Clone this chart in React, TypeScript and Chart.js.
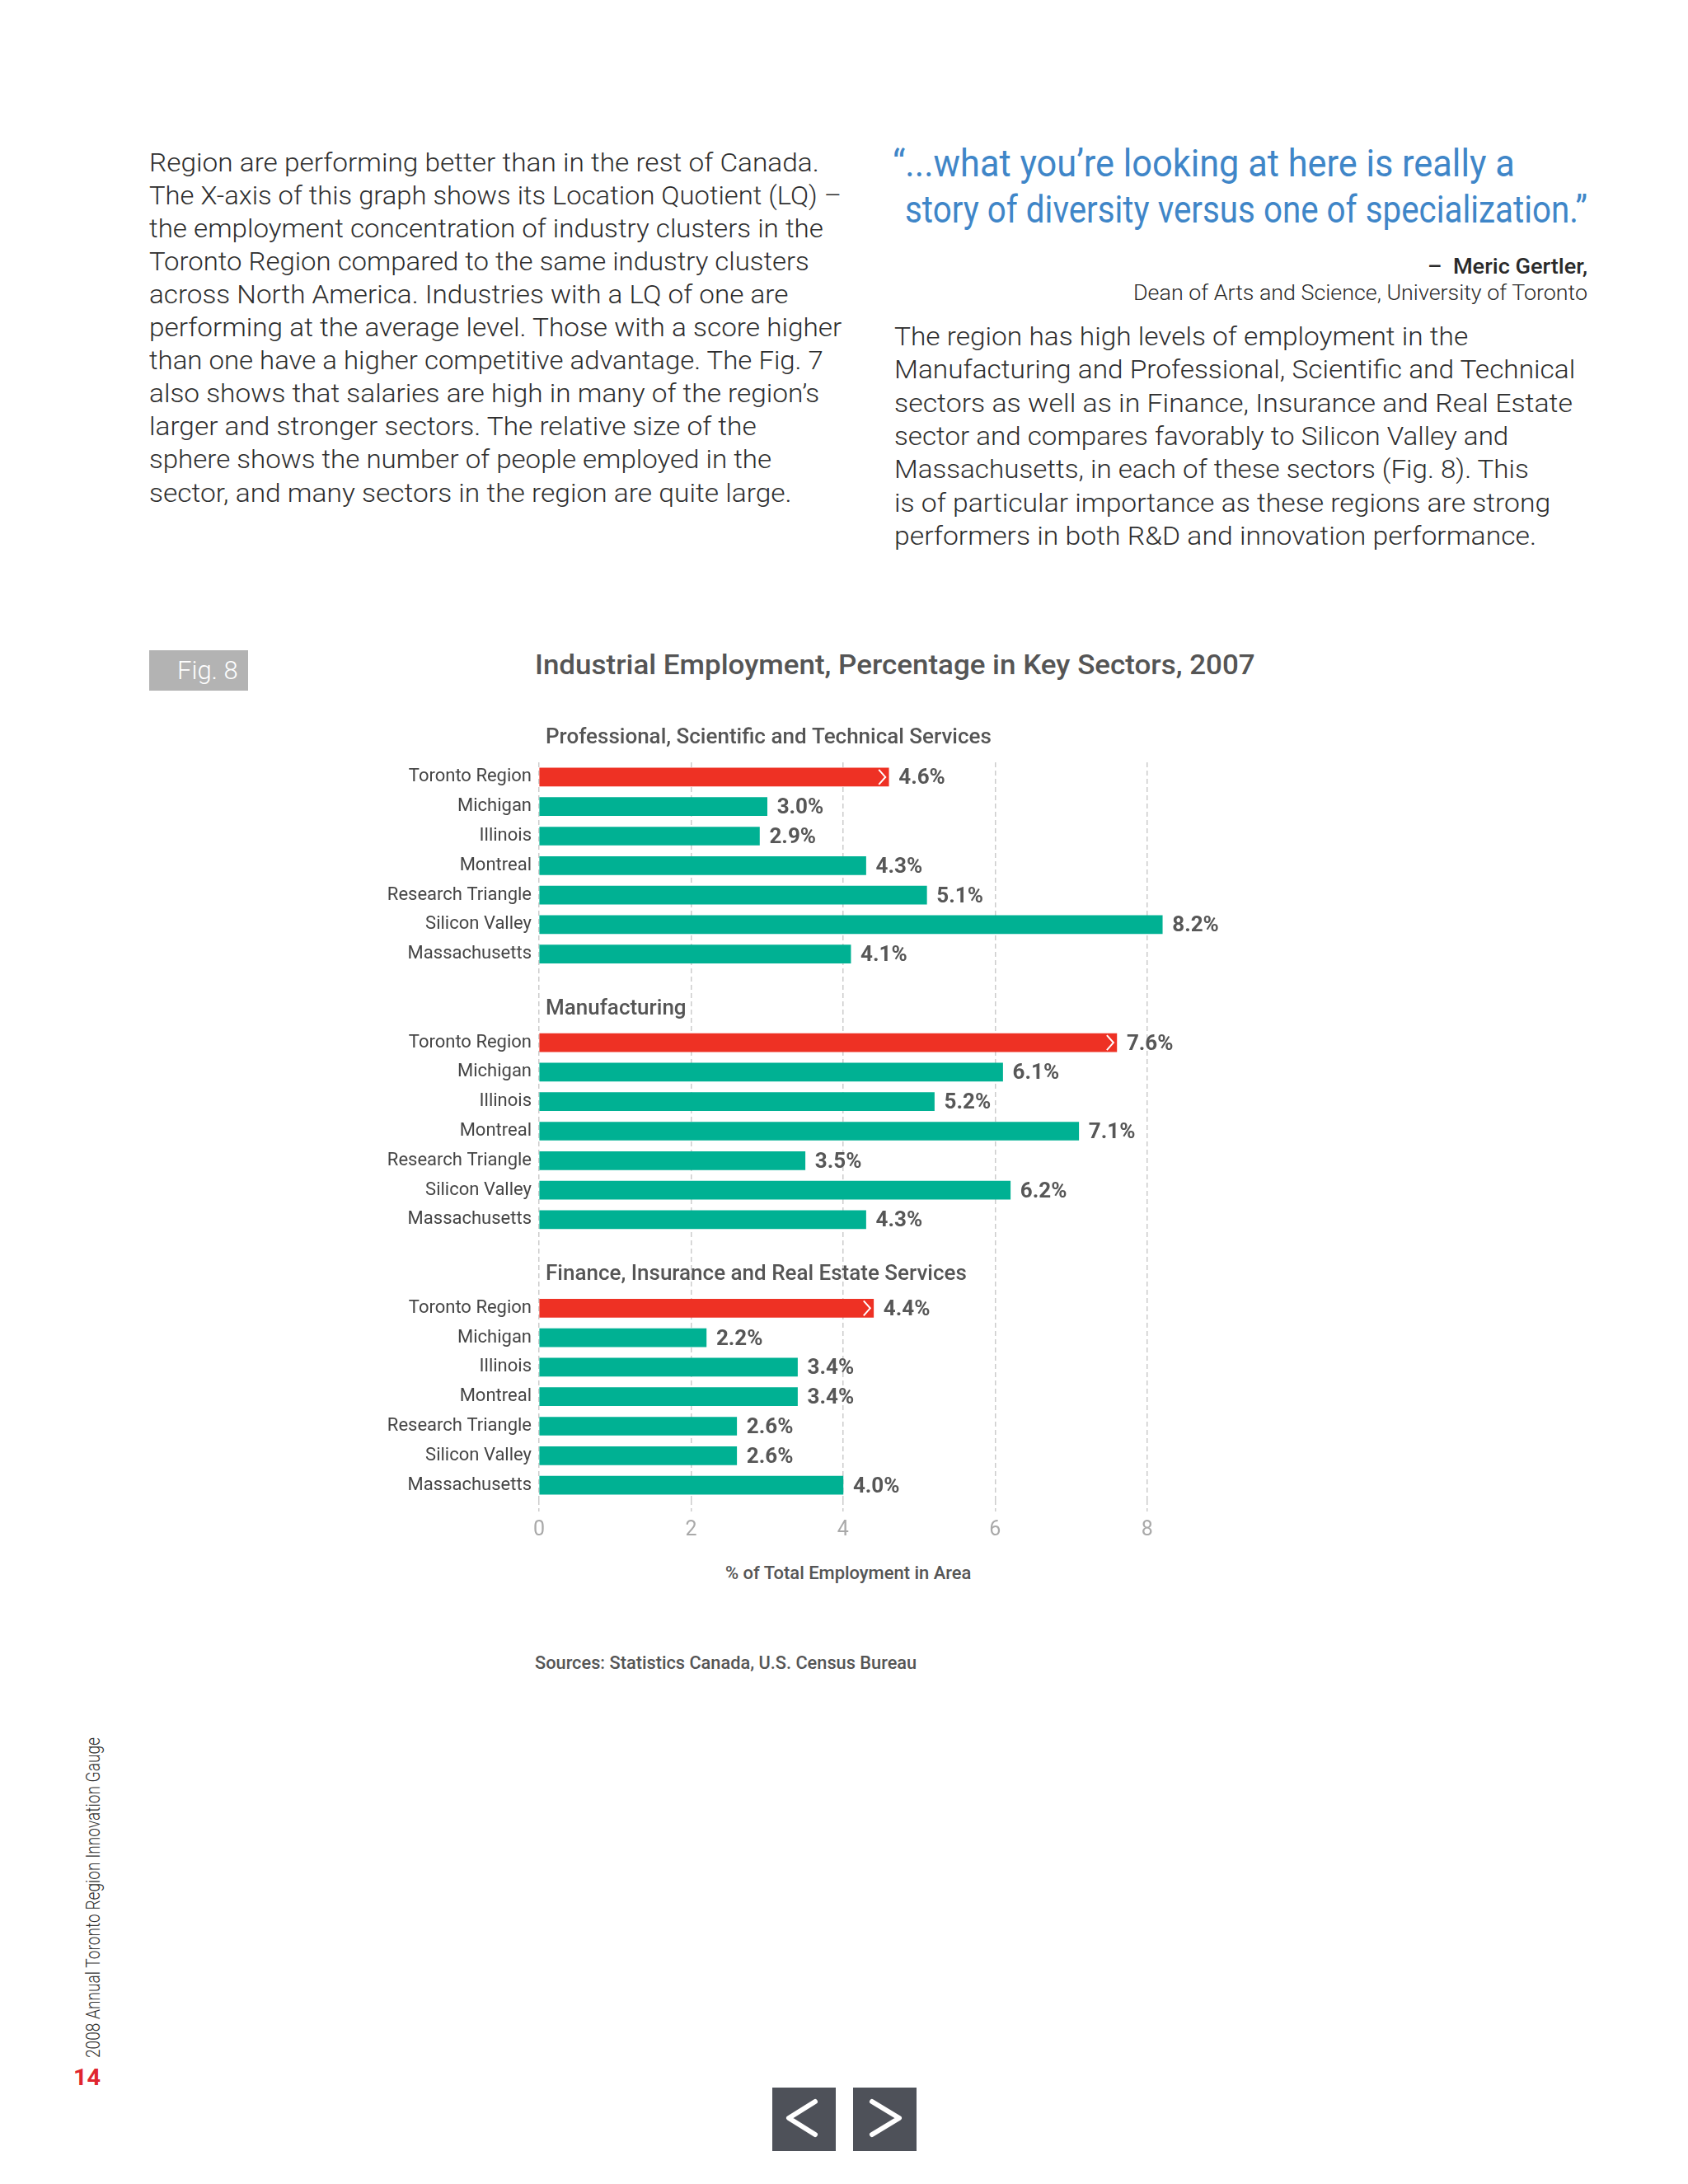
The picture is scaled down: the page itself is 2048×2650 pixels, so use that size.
import React, { useEffect, useLayoutEffect, useRef, useState } from 'react';
import { Chart, registerables } from 'chart.js';

Chart.register(...registerables);

// ---------- data ----------
const regions = [
  'Toronto Region',
  'Michigan',
  'Illinois',
  'Montreal',
  'Research Triangle',
  'Silicon Valley',
  'Massachusetts',
];
const sectorTitles = [
  'Professional, Scientific and Technical Services',
  'Manufacturing',
  'Finance, Insurance and Real Estate Services',
];
const professionalShares = [4.6, 3.0, 2.9, 4.3, 5.1, 8.2, 4.1];
const manufacturingShares = [7.6, 6.1, 5.2, 7.1, 3.5, 6.2, 4.3];
const financeShares = [4.4, 2.2, 3.4, 3.4, 2.6, 2.6, 4.0];
const xTickValues = [0, 2, 4, 6, 8];
const highlightRegion = 'Toronto Region';
const chartTitle = 'Industrial Employment, Percentage in Key Sectors, 2007';
const xAxisTitle = '% of Total Employment in Area';
const sourceNote = 'Sources: Statistics Canada, U.S. Census Bureau';
const figLabel = 'Fig. 8';

const leftParagraph = [
  'Region are performing better than in the rest of Canada.',
  'The X-axis of this graph shows its Location Quotient (LQ) –',
  'the employment concentration of industry clusters in the',
  'Toronto Region compared to the same industry clusters',
  'across North America. Industries with a LQ of one are',
  'performing at the average level. Those with a score higher',
  'than one have a higher competitive advantage. The Fig. 7',
  'also shows that salaries are high in many of the region’s',
  'larger and stronger sectors. The relative size of the',
  'sphere shows the number of people employed in the',
  'sector, and many sectors in the region are quite large.',
];
const quoteLines = [
  '“...what you’re looking at here is really a',
  'story of diversity versus one of specialization.”',
];
const quoteAuthor = '–  Meric Gertler,';
const quoteRole = 'Dean of Arts and Science, University of Toronto';
const rightParagraph = [
  'The region has high levels of employment in the',
  'Manufacturing and Professional, Scientific and Technical',
  'sectors as well as in Finance, Insurance and Real Estate',
  'sector and compares favorably to Silicon Valley and',
  'Massachusetts, in each of these sectors (Fig. 8). This',
  'is of particular importance as these regions are strong',
  'performers in both R&D and innovation performance.',
];
const footerText = '2008 Annual Toronto Region Innovation Gauge';
const pageNumber = '14';

// ---------- derived rows ----------
const sectorSeries = [professionalShares, manufacturingShares, financeShares];
const rowLabels: string[] = [];
const rowValues: (number | null)[] = [];
const sectorFirstRow: number[] = [];
sectorSeries.forEach((vals, s) => {
  if (s > 0) {
    rowLabels.push('', '');
    rowValues.push(null, null);
  }
  sectorFirstRow.push(rowLabels.length);
  regions.forEach((r, i) => {
    rowLabels.push(r);
    rowValues.push(vals[i]);
  });
});

const TEAL = '#00b193';
const RED = '#ee3124';
const FONT = 'Roboto, "Noto Sans", sans-serif';

// ---------- text helper ----------
type FitProps = {
  x: number;
  y: number;
  w: number;
  size: number;
  text: string;
  color?: string;
  weight?: number;
};
function FitText({ x, y, w, size, text, color = '#3b3b3b', weight = 400 }: FitProps) {
  const ref = useRef<HTMLSpanElement>(null);
  const [sx, setSx] = useState(1);
  useLayoutEffect(() => {
    const measure = () => {
      const el = ref.current;
      if (el && el.offsetWidth > 0) setSx(w / el.offsetWidth);
    };
    measure();
    const fonts = (document as any).fonts;
    if (fonts && fonts.ready) fonts.ready.then(measure);
  }, [text, w, size]);
  return (
    <span
      ref={ref}
      style={{
        position: 'absolute',
        left: x,
        top: y - size / 2,
        fontSize: size,
        lineHeight: `${size}px`,
        fontFamily: FONT,
        fontWeight: weight,
        color,
        whiteSpace: 'pre',
        transform: `scaleX(${sx})`,
        transformOrigin: '0 50%',
      }}
    >
      {text}
    </span>
  );
}

// ---------- chart ----------
const barExtrasPlugin = {
  id: 'barExtras',
  afterDatasetsDraw(chart: any) {
    const ctx = chart.ctx;
    const meta = chart.getDatasetMeta(0);
    ctx.save();
    meta.data.forEach((bar: any, i: number) => {
      const v = rowValues[i];
      if (v == null) return;
      const x = bar.x;
      const y = bar.y;
      ctx.font = `bold 26px ${FONT}`;
      ctx.fillStyle = '#575757';
      ctx.textAlign = 'left';
      ctx.textBaseline = 'middle';
      ctx.fillText(`${v.toFixed(1)}%`, x + 12, y + 2);
      if (rowLabels[i] === highlightRegion) {
        ctx.strokeStyle = '#ffffff';
        ctx.lineWidth = 2;
        ctx.lineJoin = 'miter';
        ctx.beginPath();
        ctx.moveTo(x - 12, y - 9);
        ctx.lineTo(x - 4, y);
        ctx.lineTo(x - 12, y + 9);
        ctx.stroke();
      }
    });
    const yScale = chart.scales.y;
    ctx.font = `500 26px ${FONT}`;
    ctx.fillStyle = '#555555';
    ctx.textAlign = 'left';
    ctx.textBaseline = 'middle';
    sectorTitles.forEach((t, s) => {
      const yy = yScale.getPixelForValue(sectorFirstRow[s]) - (s === 0 ? 47 : 41);
      ctx.fillText(t, chart.chartArea.left + 8, yy);
    });
    ctx.restore();
  },
};

function BarChart() {
  const canvasRef = useRef<HTMLCanvasElement>(null);
  useEffect(() => {
    if (!canvasRef.current) return;
    const chart = new Chart(canvasRef.current, {
      type: 'bar',
      data: {
        labels: rowLabels,
        datasets: [
          {
            data: rowValues,
            backgroundColor: rowLabels.map((l) => (l === highlightRegion ? RED : TEAL)),
            borderWidth: 0,
            barThickness: 22,
          },
        ],
      },
      options: {
        indexAxis: 'y',
        animation: false,
        responsive: false,
        layout: { padding: { top: 65, right: 116, left: 0, bottom: 0 } },
        plugins: {
          legend: { display: false },
          tooltip: { enabled: false },
          title: { display: false },
        },
        scales: {
          x: {
            type: 'linear',
            min: 0,
            max: 9,
            afterBuildTicks: (scale: any) => {
              scale.ticks = xTickValues.map((v) => ({ value: v }));
            },
            afterFit: (scale: any) => {
              scale.height = 58;
            },
            grid: {
              color: '#cccccc',
              lineWidth: 1.5,
              drawTicks: true,
              tickLength: 14,
              tickColor: '#cccccc',
              tickBorderDash: [6, 4],
            },
            border: { display: false, dash: [6, 4] },
            ticks: {
              color: '#a9a9a9',
              font: { family: FONT, size: 25 },
              padding: 8,
            },
          },
          y: {
            afterFit: (scale: any) => {
              scale.width = 254;
            },
            grid: { display: false, drawTicks: false },
            border: { display: false },
            ticks: {
              color: '#454545',
              font: { family: FONT, size: 22 },
              padding: 9,
              autoSkip: false,
            },
          },
        },
      } as any,
      plugins: [barExtrasPlugin],
    });
    return () => chart.destroy();
  }, []);
  return (
    <canvas
      ref={canvasRef}
      width={1200}
      height={1018}
      style={{ position: 'absolute', left: 400, top: 860, width: 1200, height: 1018, display: 'block' }}
    />
  );
}

// ---------- page ----------
const leftWidths = [813, 840, 818, 801, 775, 840, 818, 813, 737, 755, 780];
const rightWidths = [696, 826, 823, 745, 770, 796, 779];

export default function App() {
  return (
    <div
      style={{
        position: 'absolute',
        left: 0,
        top: 0,
        width: 2048,
        height: 2650,
        background: '#ffffff',
        overflow: 'hidden',
      }}
    >
      {leftParagraph.map((t, i) => (
        <FitText key={'l' + i} x={181} y={197 + 40.05 * i} w={leftWidths[i]} size={32} text={t} weight={300} color="#2e2e2e" />
      ))}

      <FitText x={1083} y={198} w={755} size={46} text={quoteLines[0]} color="#3f86c8" />
      <FitText x={1098} y={254} w={828} size={46} text={quoteLines[1]} color="#3f86c8" />
      <FitText x={1732} y={323} w={194} size={26} text={quoteAuthor} weight={500} color="#2a2a2a" />
      <FitText x={1375} y={355} w={551} size={25} text={quoteRole} weight={300} color="#2a2a2a" />

      {rightParagraph.map((t, i) => (
        <FitText key={'r' + i} x={1085} y={408 + 40.3 * i} w={rightWidths[i]} size={32} text={t} weight={300} color="#2e2e2e" />
      ))}

      <div
        style={{
          position: 'absolute',
          left: 181,
          top: 789,
          width: 120,
          height: 49,
          background: '#b3b3b3',
        }}
      />
      <FitText x={215} y={813} w={74} size={31} text={figLabel} weight={300} color="#ffffff" />

      <FitText x={649} y={806} w={874} size={33} text={chartTitle} weight={500} color="#555555" />

      <BarChart />

      <FitText x={880} y={1909} w={298} size={22} text={xAxisTitle} weight={500} color="#555555" />
      <FitText x={649} y={2018} w={463} size={22} text={sourceNote} weight={500} color="#555555" />

      <div
        style={{
          position: 'absolute',
          left: 113,
          top: 2303,
          width: 0,
          height: 0,
          transform: 'rotate(-90deg)',
          transformOrigin: '0 0',
        }}
      >
        <FitText x={-194.5} y={0} w={389} size={23} text={footerText} weight={300} color="#333333" />
      </div>
      <FitText x={89} y={2521} w={33} size={28} text={pageNumber} weight={700} color="#e0262f" />

      <svg
        width={2048}
        height={2650}
        style={{ position: 'absolute', left: 0, top: 0, pointerEvents: 'none' }}
      >
        <rect x={937} y={2533} width={77} height={77} fill="#4e5159" />
        <rect x={1035} y={2533} width={77} height={77} fill="#4e5159" />
        <polyline
          points="989,2550 957,2570 989,2590"
          fill="none"
          stroke="#ffffff"
          strokeWidth={6}
          strokeLinecap="round"
          strokeLinejoin="round"
        />
        <polyline
          points="1058,2550 1091,2570 1058,2590"
          fill="none"
          stroke="#ffffff"
          strokeWidth={6}
          strokeLinecap="round"
          strokeLinejoin="round"
        />
      </svg>
    </div>
  );
}
